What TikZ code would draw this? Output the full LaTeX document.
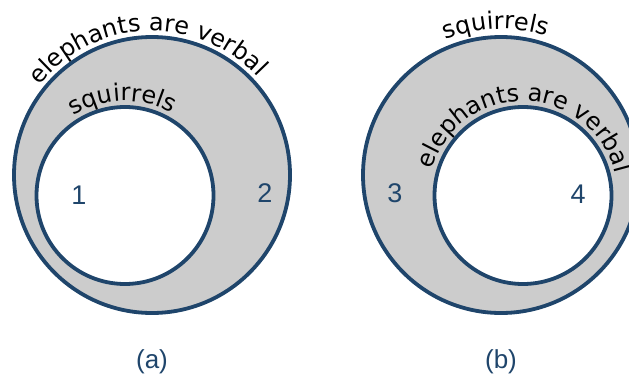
\documentclass[tikz,border=0pt]{standalone}
\usepackage{fontspec}
\setmainfont{Liberation Sans}
\newfontfamily\dejavu{DejaVu Sans}
\usetikzlibrary{decorations.text}
\definecolor{navy}{RGB}{31,69,107}
\definecolor{shade}{RGB}{204,204,204}
\newcommand\curvefont{\dejavu\fontsize{24bp}{28bp}\selectfont}
\begin{document}
\begin{tikzpicture}[x=1bp,y=1bp,
  setcircle/.style={circle, draw=navy, line width=3.8bp, inner sep=0pt, outer sep=0pt},
  outerc/.style={setcircle, fill=shade, minimum size=276bp},
  innerc/.style={setcircle, fill=white, minimum size=177bp},
  region/.style={text=navy, font=\fontsize{27bp}{30bp}\selectfont, inner sep=0pt},
  caption/.style={text=navy, font=\fontsize{26bp}{30bp}\selectfont, inner sep=0pt},
  curved/.style={decorate, decoration={text along path, text align=center, text={|\curvefont|#1}}}
]
\clip (0,0) rectangle (629,379);
\useasboundingbox (0,0) rectangle (629,379);
% (a)
\node[outerc] (Aout) at (152,204) {};
\node[innerc] (Ain) at (125,183.5) {};
% (b)
\node[outerc] (Bout) at (501,204) {};
\node[innerc] (Bin) at (523,183.5) {};
% region numbers
\node[region] (r1) at (79,184) {1};
\node[region] (r2) at (265,186) {2};
\node[region] (r3) at (395,186) {3};
\node[region] (r4) at (578,185) {4};
% captions
\node[caption] (capA) at (152,17) {(a)};
\node[caption] (capB) at (501,17) {(b)};
% curved labels
\path[curved={elephants are verbal}] (Aout.center) ++(182:144) arc[start angle=182, end angle=2, radius=144];
\path[curved={squirrels}] (Ain.center) ++(181.5:94.5) arc[start angle=181.5, end angle=1.5, radius=94.5];
\path[curved={squirrels}] (Bout.center) ++(182:146) arc[start angle=182, end angle=2, radius=146];
\path[curved={elephants are verbal}] (Bin.center) ++(178.5:94.5) arc[start angle=178.5, end angle=-1.5, radius=94.5];
\end{tikzpicture}
\end{document}
